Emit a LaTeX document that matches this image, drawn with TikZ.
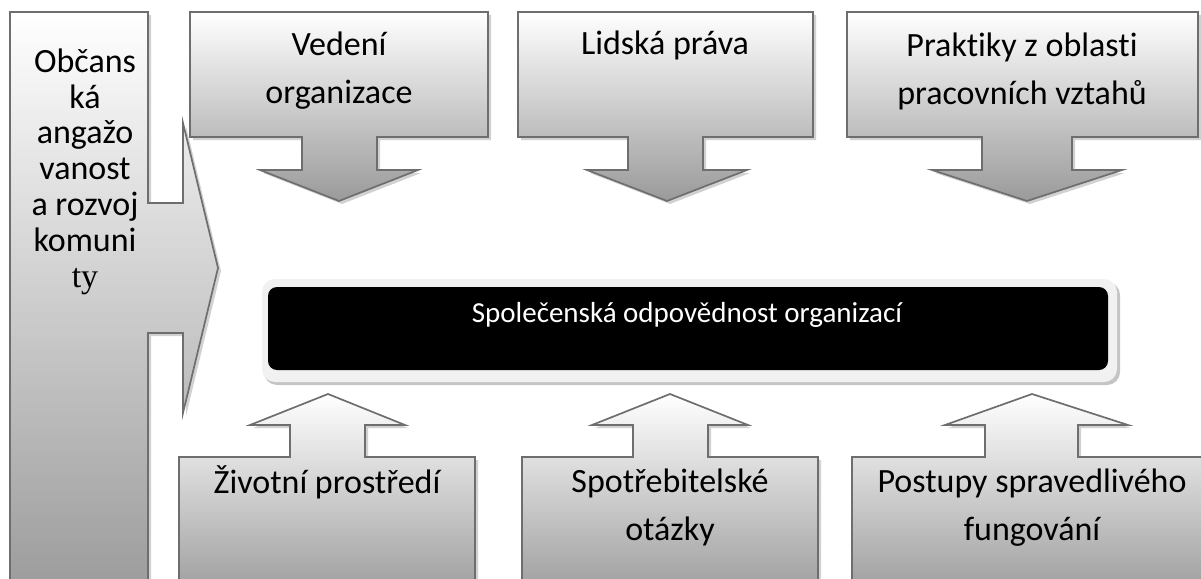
\documentclass[tikz,border=0pt]{standalone}
\usepackage{fontspec}
\setmainfont{Carlito}[Ligatures=NoCommon]
\newfontfamily\tyserif{Liberation Serif}
\definecolor{edgegrey}{HTML}{6E6E6E}
\definecolor{shadegrey}{HTML}{9A9A9A}
\definecolor{rimgrey}{HTML}{F1F1F1}
\definecolor{rimshadow}{HTML}{C4C4C4}
% box with a down-pointing arrow: x1 x2 shaft1 shaft2 head1 head2 tipx
\newcommand\downpanel[7]{%
  \fill[dropshadow] (#1,12) -- (#2,12) -- (#2,137) -- (#4,137) -- (#4,170) -- (#6,170)
    -- (#7,201) -- (#5,170) -- (#3,170) -- (#3,137) -- (#1,137) -- cycle;
  \path[panel] (#1,12) -- (#2,12) -- (#2,137) -- (#4,137) -- (#4,170) -- (#6,170)
    -- (#7,201) -- (#5,170) -- (#3,170) -- (#3,137) -- (#1,137) -- cycle;}
% box with an up-pointing arrow: x1 x2 shaft1 shaft2 head1 head2 tipx
\newcommand\uppanel[7]{%
  \fill[dropshadow] (#1,600) -- (#1,457) -- (#3,457) -- (#3,425) -- (#5,425) -- (#7,394)
    -- (#6,425) -- (#4,425) -- (#4,457) -- (#2,457) -- (#2,600) -- cycle;
  \path[panel] (#1,600) -- (#1,457) -- (#3,457) -- (#3,425) -- (#5,425) -- (#7,394)
    -- (#6,425) -- (#4,425) -- (#4,457) -- (#2,457) -- (#2,600) -- cycle;}
\begin{document}
\begin{tikzpicture}[x=1pt,y=-1pt,
  panel/.style={draw=edgegrey, line width=1.7pt, line join=miter,
    top color=white, bottom color=shadegrey},
  dropshadow/.style={fill=black, opacity=0.18, xshift=3pt, yshift=-3pt},
  boxlabel/.style={font=\fontsize{34}{48}\selectfont, align=center, inner sep=0pt, anchor=base},
  sidelabel/.style={font=\fontsize{34}{35.8}\selectfont, align=center, inner sep=0pt, anchor=base}]
\useasboundingbox (0,0) rectangle (1201,578);
\clip (0,0) rectangle (1201,578);

% side panel pointing right
\fill[dropshadow] (10,600) -- (10,12) -- (148,12) -- (148,203) -- (183,203) -- (183,123)
  -- (218,268) -- (183,413) -- (183,333) -- (148,333) -- (148,600) -- cycle;
\path[panel] (10,600) -- (10,12) -- (148,12) -- (148,203) -- (183,203) -- (183,123)
  -- (218,268) -- (183,413) -- (183,333) -- (148,333) -- (148,600) -- cycle;

% upper panels
\downpanel{190}{488}{302}{377}{260}{418}{339}
\downpanel{518}{813}{628}{703}{587}{747}{667}
\downpanel{847}{1198}{982}{1072}{932}{1122}{1027}

% lower panels
\uppanel{179}{475}{290}{365}{250}{405}{328}
\uppanel{522}{818}{633}{708}{592}{748}{670}
\uppanel{852}{1212}{985}{1078}{945}{1128}{1032}

% central bar
\fill[rimshadow, rounded corners=13pt] (264,282) rectangle (1120,385);
\fill[rimgrey, rounded corners=13pt] (262,279) rectangle (1117,382);
\fill[black, rounded corners=9pt] (268,287) rectangle (1108,370);
\node[font=\fontsize{29}{34}\selectfont, text=white, inner sep=0pt, anchor=base]
  (core) at (687,322) {Společenská odpovědnost organizací};

% labels (anchored at the baseline of their last line)
\node[sidelabel] (community) at (85,287)
  {Občans\\ká\\angažo\\vanost\\a rozvoj\\komuni\\{\tyserif ty}};
\node[boxlabel] (governance) at (339,103) {Vedení\\organizace};
\node[boxlabel] (rights) at (665,55) {Lidská práva};
\node[boxlabel] (labour) at (1022,104) {Praktiky z oblasti\\pracovních vztahů};
\node[boxlabel] (environment) at (327,493) {Životní prostředí};
\node[boxlabel] (consumers) at (670,540) {Spotřebitelské\\otázky};
\node[boxlabel] (fairness) at (1032,540) {Postupy spravedlivého\\fungování};
\end{tikzpicture}
\end{document}
